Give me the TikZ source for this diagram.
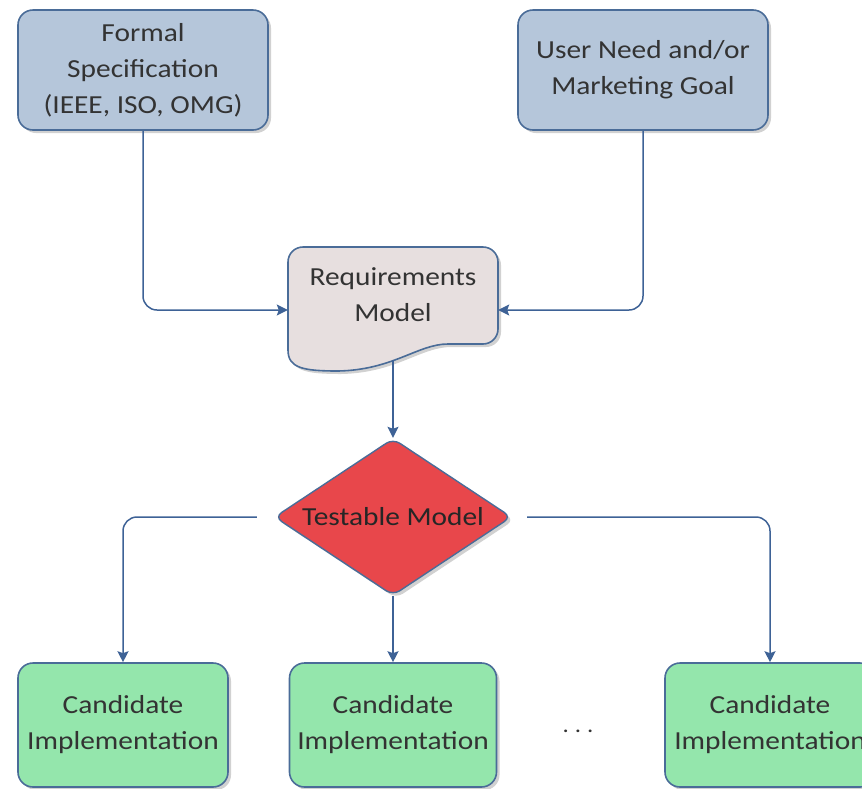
\documentclass[tikz,border=0pt]{standalone}
\usepackage{fontspec}
\setmainfont{Carlito}[FakeStretch=1.13]
\usepackage{tikz}
\usetikzlibrary{shapes.geometric,arrows.meta,calc,shadows,backgrounds}
\definecolor{SpecBlue}{HTML}{B5C6DA}
\definecolor{ReqGray}{HTML}{E7DFDF}
\definecolor{ModelRed}{HTML}{E8474B}
\definecolor{ImplGreen}{HTML}{94E6AC}
\definecolor{EdgeBlue}{HTML}{4A6C98}
\definecolor{ArrowBlue}{HTML}{3E6296}
\definecolor{TextGray}{HTML}{333333}

\begin{document}
\begin{tikzpicture}[x=1pt, y=-1pt,
        box/.style={rectangle, draw=EdgeBlue, fill=#1, line width=1.6pt,
                    rounded corners=15pt, align=center, text=TextGray,
                    font=\fontsize{26}{36}\selectfont,
                    drop shadow={shadow xshift=3pt, shadow yshift=-3pt,
                                 opacity=.3, fill=black!60}},
        arr/.style={-{Stealth[length=11pt,width=11pt,inset=2pt]},
                    line width=1.5pt, draw=ArrowBlue, rounded corners=14pt},
      ]
      \useasboundingbox (0,0) rectangle (862,788);
      % sources
      \node[box=SpecBlue, minimum width=250pt, minimum height=120pt] (spec) at (143,70)
        {Formal\\Specification\\(IEEE, ISO, OMG)};
      \node[box=SpecBlue, minimum width=250pt, minimum height=120pt] (need) at (643,70)
        {User Need and/or\\Marketing Goal};
      % requirements document
      \node[align=center, text=TextGray, font=\fontsize{26}{36}\selectfont,
            text depth=30pt, minimum width=210pt, minimum height=126pt] (req) at (393,310)
        {Requirements\\Model};
      \begin{scope}[on background layer]
        \draw[draw=EdgeBlue, fill=ReqGray, line width=1.6pt,
              drop shadow={shadow xshift=3pt, shadow yshift=-3pt, opacity=.3, fill=black!60}]
          ($(req.center)+(-105,0)$) [rounded corners=15pt]
          -- ($(req.center)+(-105,-63)$) -- ($(req.center)+(105,-63)$)
          -- ($(req.center)+(105,34)$) -- ($(req.center)+(70,34)$) [sharp corners]
          .. controls ($(req.center)+(25,34)$) and ($(req.center)+(0,60)$) .. ($(req.center)+(-55,61)$)
          .. controls ($(req.center)+(-90,61)$) and ($(req.center)+(-105,58)$) .. ($(req.center)+(-105,40)$)
          -- cycle;
      \end{scope}
      \coordinate (reqout) at ($(req.center)+(0,50)$);
      % decision
      \node[diamond, aspect=1.5, draw=EdgeBlue, fill=ModelRed, line width=1.4pt, rounded corners=8pt,
            minimum width=237pt, minimum height=157pt, inner sep=0pt,
            text=black!85, font=\fontsize{26}{36}\selectfont,
            drop shadow={shadow xshift=3pt, shadow yshift=-3pt, opacity=.3, fill=black!60}]
        (tm) at (393,517) {Testable Model};
      % implementations
      \node[box=ImplGreen, minimum width=210pt, minimum height=124pt] (impA) at (123,725)
        {Candidate\\Implementation};
      \node[box=ImplGreen, minimum width=207pt, minimum height=124pt] (impB) at (393,725)
        {Candidate\\Implementation};
      \node[box=ImplGreen, minimum width=210pt, minimum height=124pt] (impC) at (770,725)
        {Candidate\\Implementation};
      \node[text=TextGray, font=\fontsize{22}{26}\selectfont] (dots) at (578,731)
        {.\hspace{6pt}.\hspace{6pt}.};
      % connectors
      \draw[arr] (spec.south) |- (req.west);
      \draw[arr] (need.south) |- (req.east);
      \draw[arr] (reqout) -- (tm.north);
      \draw[arr, shorten <=17pt] (tm.west) -| (impA.north);
      \draw[arr] (tm.south) -- (impB.north);
      \draw[arr, shorten <=15pt] (tm.east) -| (impC.north);
    \end{tikzpicture}
\end{document}
